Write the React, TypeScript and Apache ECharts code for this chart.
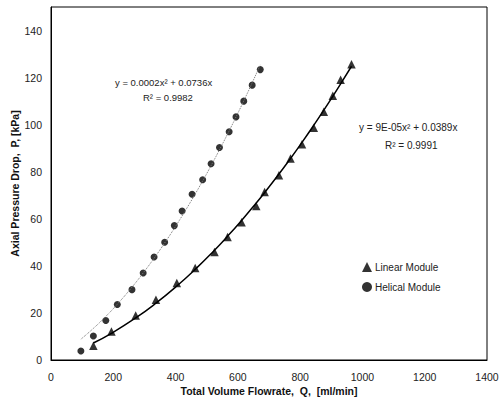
import React, { useEffect, useRef } from "react";
import * as echarts from "echarts";

const linearQ = [136, 194, 272, 337, 404, 463, 525, 567, 612, 659, 686, 732, 769, 806, 844, 876, 905, 930, 965];
const linearP = [6.1, 12.1, 18.9, 25.6, 32.7, 39.1, 45.9, 52.3, 58.5, 65.4, 71.4, 78.5, 85.6, 91.7, 98.7, 105.5, 112.3, 119.1, 125.7];
const helicalQ = [96, 136, 176, 213, 260, 296, 331, 365, 396, 421, 453, 487, 514, 541, 572, 594, 619, 646, 672];
const helicalP = [3.8, 10.2, 16.8, 23.6, 29.9, 37.0, 43.8, 50.0, 57.1, 63.3, 70.4, 76.6, 83.4, 90.3, 97.0, 103.3, 110.0, 116.8, 123.4];
const xTicks = { min: 0, max: 1400, interval: 200 };
const yTicks = { min: 0, max: 150, interval: 20 };
const helicalEq = ["y = 0.0002x\u00B2 + 0.0736x", "R\u00B2 = 0.9982"];
const linearEq = ["y = 9E-05x\u00B2 + 0.0389x", "R\u00B2 = 0.9991"];

// least-squares fit y = a x^2 + b x (through the origin), as the trendline labels show
function fitThroughOrigin(xs: number[], ys: number[]) {
  let s4 = 0, s3 = 0, s2 = 0, sx2y = 0, sxy = 0;
  xs.forEach((x, i) => {
    const y = ys[i];
    s4 += x ** 4; s3 += x ** 3; s2 += x ** 2;
    sx2y += x * x * y; sxy += x * y;
  });
  const det = s4 * s2 - s3 * s3;
  const a = (sx2y * s2 - s3 * sxy) / det;
  const b = (s4 * sxy - s3 * sx2y) / det;
  return xs.map((x) => [x, a * x * x + b * x]);
}

export default function App() {
  const ref = useRef<HTMLDivElement>(null);
  useEffect(() => {
    if (!ref.current) return;
    const chart = echarts.init(ref.current, undefined, { renderer: "svg" });
    const font = "Liberation Sans, Arial, sans-serif";
    chart.setOption({
      animation: false,
      backgroundColor: "#fff",
      textStyle: { fontFamily: font },
      grid: {
        left: 51, top: 7, right: 12, bottom: 44,
        containLabel: false, outerBoundsMode: "none",
        show: true, borderColor: "#000", borderWidth: 1,
      },
      xAxis: {
        type: "value",
        ...xTicks,
        name: "Total Volume Flowrate,  Q,  [ml/min]",
        nameLocation: "middle",
        nameGap: 25,
        nameMoveOverlap: false,
        nameTextStyle: { fontSize: 10.5, fontWeight: "bold", color: "#111", fontFamily: font },
        axisLine: { show: true, lineStyle: { color: "#000", width: 1 } },
        axisTick: { show: false },
        splitLine: { show: false },
        axisLabel: { fontSize: 10.5, color: "#222", margin: 11, fontFamily: font, formatter: (v: number) => String(v) },
      },
      yAxis: {
        type: "value",
        ...yTicks,
        name: "Axial Pressure Drop,  P, [kPa]",
        nameLocation: "middle",
        nameGap: 31,
        nameMoveOverlap: false,
        nameTextStyle: { fontSize: 10.5, fontWeight: "bold", color: "#111", fontFamily: font },
        axisLine: { show: true, lineStyle: { color: "#000", width: 1 } },
        axisTick: { show: false },
        splitLine: { show: false },
        axisLabel: { fontSize: 10.5, color: "#222", margin: 9, showMaxLabel: false, fontFamily: font, formatter: (v: number) => String(v) },
      },
      legend: {
        orient: "vertical",
        left: 357,
        top: 257,
        itemGap: 10,
        itemWidth: 10,
        itemHeight: 10,
        textStyle: { fontSize: 10, color: "#222", fontFamily: font, padding: [0, 0, 0, -2] },
        data: [
          { name: "Linear Module", icon: "triangle" },
          { name: "Helical Module", icon: "circle" },
        ],
      },
      series: [
        {
          type: "line",
          data: fitThroughOrigin(linearQ, linearP),
          smooth: true,
          showSymbol: false,
          lineStyle: { color: "#000", width: 1.5 },
          silent: true,
        },
        {
          type: "line",
          data: fitThroughOrigin(helicalQ, helicalP),
          smooth: true,
          showSymbol: false,
          lineStyle: { color: "#777", width: 1, type: "dotted" },
          silent: true,
        },
        {
          name: "Linear Module",
          type: "scatter",
          symbol: "triangle",
          symbolSize: 8.5,
          itemStyle: { color: "#000" },
          data: linearQ.map((q, i) => [q, linearP[i]]),
        },
        {
          name: "Helical Module",
          type: "scatter",
          symbol: "circle",
          symbolSize: 7,
          itemStyle: { color: "#000" },
          data: helicalQ.map((q, i) => [q, helicalP[i]]),
        },
      ],
      graphic: [
        { type: "text", left: 115, top: 77, style: { text: helicalEq[0], fontSize: 9.5, fill: "#222", fontFamily: font } },
        { type: "text", left: 143, top: 92, style: { text: helicalEq[1], fontSize: 9.5, fill: "#222", fontFamily: font } },
        { type: "text", left: 359, top: 122, style: { text: linearEq[0], fontSize: 10, fill: "#222", fontFamily: font } },
        { type: "text", left: 385, top: 140, style: { text: linearEq[1], fontSize: 10, fill: "#222", fontFamily: font } },
      ],
    });
    return () => chart.dispose();
  }, []);
  return <div ref={ref} style={{ position: "fixed", left: 0, top: 0, width: 499, height: 404 }} />;
}
